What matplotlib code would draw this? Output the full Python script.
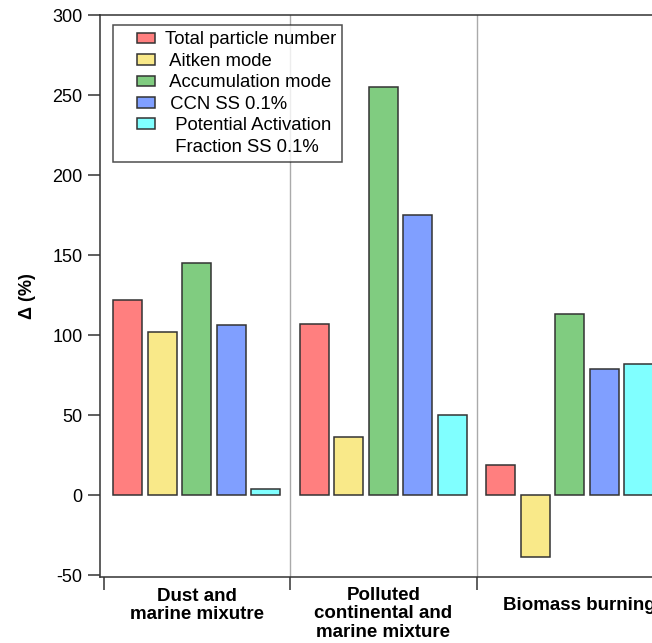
import matplotlib
matplotlib.use("Agg")
import matplotlib.pyplot as plt
from matplotlib.patches import Rectangle
from matplotlib.legend_handler import HandlerPatch
import numpy as np

plt.rcParams['font.family'] = ['Liberation Sans', 'DejaVu Sans']
plt.rcParams['axes.unicode_minus'] = False

categories = ["Dust and\nmarine mixutre",
              "Polluted\ncontinental and\nmarine mixture",
              "Biomass burning"]
series_names = ["Total particle number", " Aitken mode", " Accumulation mode",
                " CCN SS 0.1%", "  Potential Activation"]
extra_label = "  Fraction SS 0.1%"
total_particle = [122, 107, 19]
aitken = [102, 36, -39]
accumulation = [145, 255, 113]
ccn = [106, 175, 79]
activation_fraction = [4, 50, 82]
series_values = [total_particle, aitken, accumulation, ccn, activation_fraction]
colors = ["#FF7F7F", "#F9E989", "#80CC80", "#809FFF", "#80FFFF"]
yticks = [-50, 0, 50, 100, 150, 200, 250, 300]

W, H = 652, 643
fig = plt.figure(figsize=(W / 100, H / 100), dpi=100)
left_px, top_px, bottom_px = 100, 15, 576.6
grp_px = 186.5
xmin, xmax = -0.019, 3.04
ax_w_px = (xmax - xmin) * grp_px
ax = fig.add_axes([left_px / W, 1 - bottom_px / H, ax_w_px / W, (bottom_px - top_px) / H])
ax.set_xlim(xmin, xmax)
ax.set_ylim(-51, 300)

edge = "#333333"
offset = 0.185
bw = 0.155
centers = np.arange(len(categories)) + 0.5
handles = []
for i, (vals, c) in enumerate(zip(series_values, colors)):
    b = ax.bar(centers + (i - 2) * offset, vals, width=bw, color=c,
               edgecolor=edge, linewidth=1.1, zorder=3)
    handles.append(b)

for xs in [1, 2]:
    ax.axvline(xs, color="#aaaaaa", linewidth=1.0, zorder=1)

for s in ["left", "bottom", "top"]:
    ax.spines[s].set_color(edge)
    ax.spines[s].set_linewidth(1.1)
ax.spines["right"].set_visible(False)

ax.set_yticks(yticks)
ax.tick_params(axis="y", direction="out", length=8.6, width=1.1, color=edge,
               labelsize=13, pad=4)
ax.set_xticks([0, 1, 2, 3])
ax.set_xticklabels([])
ax.tick_params(axis="x", direction="out", length=9, width=1.1, color=edge)

ax.set_ylabel("Δ (%)", fontsize=13, fontweight="bold", labelpad=12)

trans = ax.get_xaxis_transform()
def px_to_axfrac(py):
    return (bottom_px - py) / (bottom_px - top_px)
fs_cat = 13.5
ax.text(centers[0], px_to_axfrac(588), categories[0], transform=trans, ha="center",
        va="top", fontsize=fs_cat, fontweight="bold", linespacing=1.1, clip_on=False)
ax.text(centers[1], px_to_axfrac(587), categories[1], transform=trans, ha="center",
        va="top", fontsize=fs_cat, fontweight="bold", linespacing=1.1, clip_on=False)
ax.text(centers[2] + 10 / grp_px, px_to_axfrac(606), categories[2], transform=trans,
        ha="center", va="center", fontsize=fs_cat, fontweight="bold", clip_on=False)


def make_patch(legend, orig_handle, xdescent, ydescent, width, height, fontsize):
    pw = 18 * 72 / 100.0
    ph = 10.5 * 72 / 100.0
    return Rectangle((width - pw - xdescent, -ydescent + (height - ph) / 2), pw, ph)


class RightHandler(HandlerPatch):
    def __init__(self):
        super().__init__(patch_func=make_patch)


blank = Rectangle((0, 0), 1, 1, fill=False, edgecolor="none", visible=False)
leg_handles = [Rectangle((0, 0), 1, 1, facecolor=c, edgecolor=edge, linewidth=1.1)
               for c in colors]
labels = series_names + [extra_label]
hmap = {h: RightHandler() for h in leg_handles}
leg = ax.legend(leg_handles + [blank], labels, loc="upper left",
                handler_map=hmap,
                bbox_to_anchor=((113 - left_px) / ax_w_px, 1 - (25 - top_px) / (bottom_px - top_px)),
                fontsize=13.3, frameon=True, fancybox=False, edgecolor="#222222",
                labelspacing=0.24, handlelength=1.9, handleheight=0.7,
                handletextpad=0.55, borderpad=0.35, borderaxespad=0.0)
leg.get_frame().set_linewidth(1.1)
leg.set_zorder(5)

fig.savefig("out.png", dpi=100)
